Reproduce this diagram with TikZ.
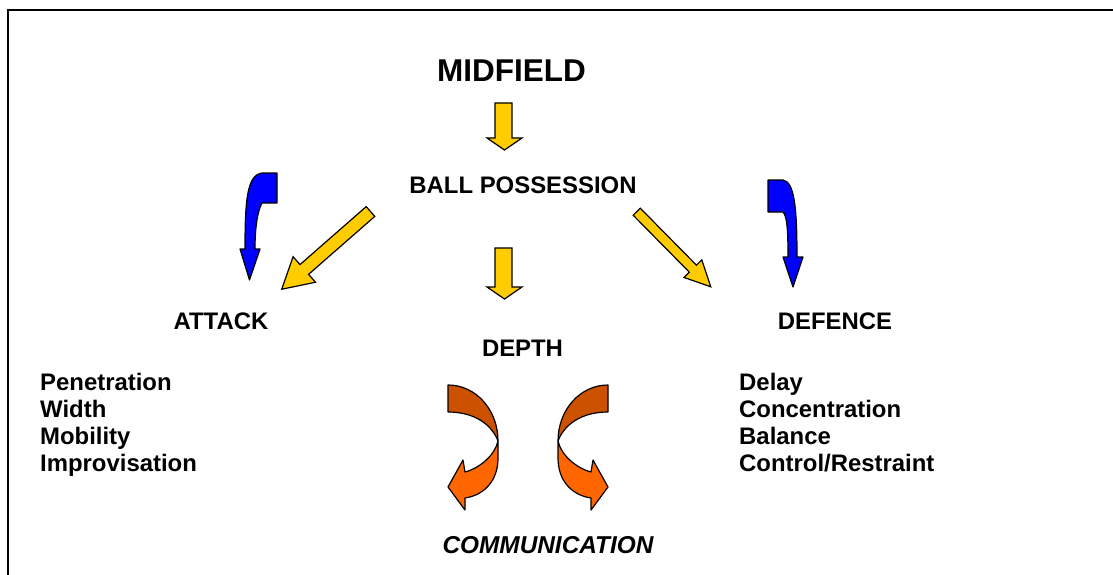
\documentclass[tikz,border=0pt]{standalone}
\usepackage{fontspec}
\setmainfont{Liberation Sans}
\definecolor{arrowyellow}{HTML}{FFCC00}
\definecolor{arrowblue}{HTML}{0000FF}
\definecolor{orangedark}{HTML}{CC5200}
\definecolor{orangelight}{HTML}{FF6600}
\tikzset{
  lbl/.style={font=\fontsize{23.9}{28}\selectfont\bfseries, inner sep=0pt, anchor=base},
  lst/.style={font=\fontsize{23.9}{28}\selectfont\bfseries, inner sep=0pt, anchor=base west},
  big/.style={font=\fontsize{31.5}{36}\selectfont\bfseries, inner sep=0pt, anchor=base},
  yel/.style={fill=arrowyellow, draw=black, line width=1.2pt, line join=miter},
  blu/.style={fill=arrowblue, draw=black, line width=1.2pt, line join=round},
  ordark/.style={fill=orangedark, draw=black, line width=1.2pt, line join=round},
  orlight/.style={fill=orangelight, draw=black, line width=1.2pt, line join=round},
  frame/.style={draw=black, line width=2pt}
}
\begin{document}
\begin{tikzpicture}[x=1pt, y=-1pt]
\useasboundingbox (0,0) rectangle (1113,575);
% frame
\draw[frame] (7.5,576) -- (7.5,10.5) -- (1114,10.5);

% texts
\node[big] (mid) at (511.5,82) {MIDFIELD};
\node[lbl] (ball) at (523,193) {BALL POSSESSION};
\node[lbl] (att) at (221,329) {ATTACK};
\node[lbl] (def) at (835,329) {DEFENCE};
\node[lbl] (dep) at (522.5,356) {DEPTH};
\node[lbl, font=\fontsize{24.4}{28}\selectfont\bfseries\itshape] (com) at (548,553) {COMMUNICATION};

\node[lst] (a1) at (40,390) {Penetration};
\node[lst] (a2) at (40,417) {Width};
\node[lst] (a3) at (40,444) {Mobility};
\node[lst] (a4) at (40,471) {Improvisation};

\node[lst] (d1) at (739,390) {Delay};
\node[lst] (d2) at (739,417) {Concentration};
\node[lst] (d3) at (739,444) {Balance};
\node[lst] (d4) at (739,471) {Control/Restraint};

% vertical yellow arrows
\draw[yel] (495,103) -- (512,103) -- (512,138) -- (522,138) -- (504.5,150) -- (487,138) -- (495,138) -- cycle;
\draw[yel] (495,248) -- (512,248) -- (512,287) -- (522,287) -- (504.5,299) -- (487,287) -- (495,287) -- cycle;

% diagonal yellow arrows
\begin{scope}[shift={(370.5,211.5)}, rotate=221.2]
  \draw[yel] (0,-6.5) -- (88,-6.5) -- (88,-17) -- (118,0) -- (88,17) -- (88,6.5) -- (0,6.5) -- cycle;
\end{scope}
\begin{scope}[shift={(636.7,211.7)}, rotate=-45.4]
  \draw[yel] (0,-5) -- (80,-5) -- (80,-12.5) -- (105.5,0) -- (80,12.5) -- (80,5) -- (0,5) -- cycle;
\end{scope}

% blue curved arrows
\draw[blu] (262,173) -- (277,173) -- (277,203) -- (262,203)
  .. controls (257,212) and (255,230) .. (255,249) -- (260,249) -- (249.5,280) -- (240,249) -- (245,249)
  .. controls (245,200) and (247,175) .. (262,173) -- cycle;
\draw[blu] (768,180) -- (783,180) .. controls (794,182) and (797,205) .. (797,257)
  -- (803,257) -- (793,287) -- (783,257) -- (788,257)
  .. controls (788,230) and (787,216) .. (783,212) -- (768,212) -- cycle;

% orange curved arrows
\draw[ordark] (448,385) .. controls (476,385) and (498,410) .. (498,441)
  .. controls (492,425) and (475,412) .. (448,412) -- cycle;
\draw[orlight] (498,441) -- (498,458) .. controls (498,480) and (485,495) .. (465,498)
  -- (465,510) -- (448,487) -- (463,460) -- (465,472)
  .. controls (480,468) and (495,455) .. (498,441) -- cycle;
\begin{scope}[shift={(1056,0)}, xscale=-1]
\draw[ordark] (448,385) .. controls (476,385) and (498,410) .. (498,441)
  .. controls (492,425) and (475,412) .. (448,412) -- cycle;
\draw[orlight] (498,441) -- (498,458) .. controls (498,480) and (485,495) .. (465,498)
  -- (465,510) -- (448,487) -- (463,460) -- (465,472)
  .. controls (480,468) and (495,455) .. (498,441) -- cycle;
\end{scope}
\end{tikzpicture}
\end{document}
